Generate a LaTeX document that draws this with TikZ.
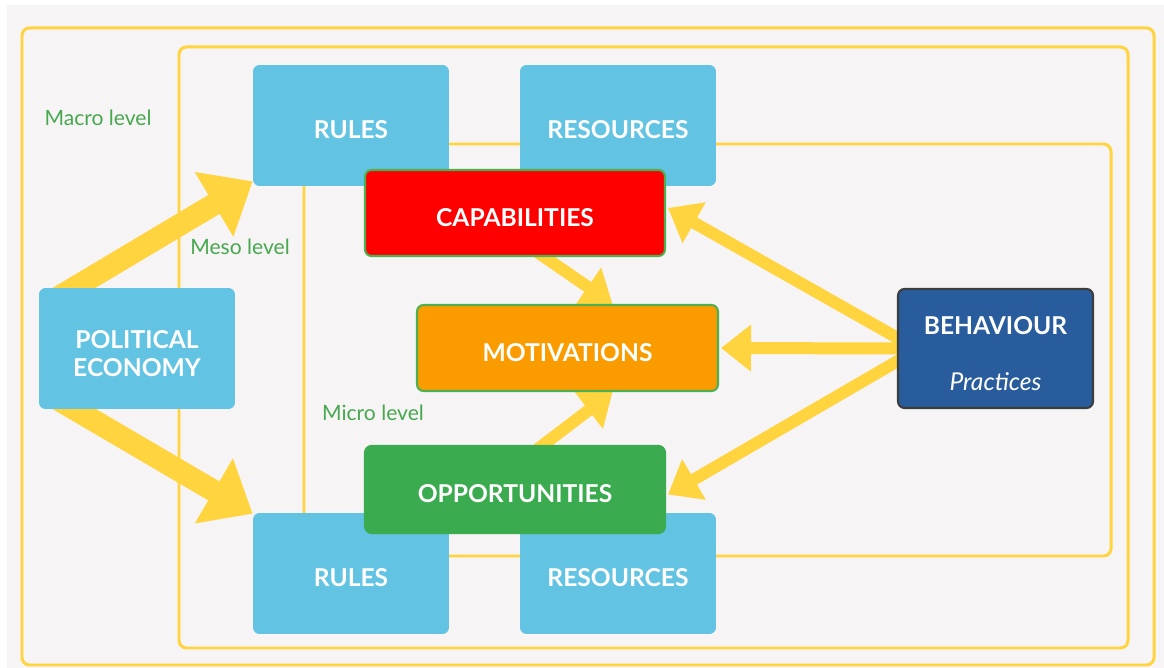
\documentclass[tikz,border=0pt]{standalone}
\usepackage{fontspec}
\setmainfont{Lato}
\usetikzlibrary{arrows.meta,calc}
\pgfdeclarelayer{bg}
\pgfsetlayers{bg,main}

\definecolor{paper}{HTML}{F6F4F5}
\definecolor{frameyellow}{HTML}{FFD43E}
\definecolor{skyblue}{HTML}{62C4E2}
\definecolor{capred}{HTML}{FF0000}
\definecolor{motorange}{HTML}{FA9C00}
\definecolor{oppgreen}{HTML}{3BAB4F}
\definecolor{edgegreen}{HTML}{4CAF50}
\definecolor{levelgreen}{HTML}{47A84F}
\definecolor{behblue}{HTML}{285C9C}
\definecolor{behedge}{HTML}{3D3D3D}

\newcommand{\toplift}{\rule{0pt}{16pt}}

\tikzset{
	frame/.style={draw=frameyellow, line width=1.7pt, rounded corners=0.15cm},
	box/.style={rounded corners=0.13cm, text=white, font=\fontsize{14}{16}\selectfont\bfseries, align=center, inner sep=0pt,
		execute at begin node={\rule{0pt}{15pt}}},
	bluebox/.style={box, fill=skyblue, minimum width=3.92cm, minimum height=2.42cm},
	factor/.style={box, draw=edgegreen, line width=1.2pt, minimum width=6cm, minimum height=1.72cm},
	level/.style={text=levelgreen, font=\fontsize{12}{14}\selectfont},
	bigarrow/.style={frameyellow, line width=0.44cm, -{Triangle[length=0.9cm, width=1.45cm]}},
	midarrow/.style={frameyellow, line width=0.24cm, -{Triangle[length=0.6cm, width=0.9cm]}}
}

\begin{document}
\begin{tikzpicture}[x=0.02cm, y=-0.02cm]
	\useasboundingbox (0,0) rectangle (1164,668);

	%paper and the three level frames
	\begin{pgfonlayer}{bg}
		\fill[paper] (7,5) rectangle (1164,668);
		\draw[frame] (22,28) rectangle (1154,665);
		\draw[frame] (179,47) rectangle (1128,648);
		\draw[frame] (304,144) rectangle (1111,556);
	\end{pgfonlayer}

	%level labels
	\node[level] (macro) at (98,118) {Macro level};
	\node[level] (meso) at (240,247) {Meso level};
	\node[level] (micro) at (373,413) {Micro level};

	%rules and resources, top and bottom
	\node[bluebox] (rulesT) at (351,125.5) {RULES};
	\node[bluebox] (resT) at (618,125.5) {RESOURCES};
	\node[bluebox] (rulesB) at (351,573.5) {RULES};
	\node[bluebox] (resB) at (618,573.5) {RESOURCES};
	\node[bluebox] (pe) at (137,348.5) {\toplift POLITICAL\\ECONOMY};

	%the three factors
	\node[factor, fill=capred] (cap) at (515,213) {CAPABILITIES};
	\node[factor, fill=motorange, minimum width=6.02cm] (mot) at (567.5,348) {MOTIVATIONS};
	\node[factor, fill=oppgreen, draw=oppgreen, minimum height=1.74cm] (opp) at (515,489.5) {OPPORTUNITIES};

	%behaviour
	\node[box, fill=behblue, draw=behedge, line width=1.2pt, minimum width=3.9cm, minimum height=2.38cm] (beh) at (995.5,348.5)
		{\toplift BEHAVIOUR\\[16pt]{\mdseries\itshape Practices}};

	%arrows, kept behind the boxes
	\begin{pgfonlayer}{bg}
		\draw[bigarrow] ($(pe.north west)+(19,10)$) -- ($(rulesT.south west)+(0,-5)$);
		\draw[bigarrow] ($(pe.south west)+(19,-10)$) -- ($(rulesB.north west)+(0,1)$);
		\draw[midarrow] ($(cap.south)+(15,-10)$) -- ($(mot.north)+(45,0)$);
		\draw[midarrow] ($(opp.north)+(15,10)$) -- ($(mot.south)+(45,0)$);
		\draw[midarrow] ($(beh.west)+(5,-8)$) -- ($(cap.east)+(2,-5)$);
		\draw[midarrow] ($(beh.west)+(5,0)$) -- ($(mot.east)+(2,0)$);
		\draw[midarrow] ($(beh.west)+(5,10)$) -- ($(opp.east)+(2,5)$);
	\end{pgfonlayer}

\end{tikzpicture}
\end{document}
